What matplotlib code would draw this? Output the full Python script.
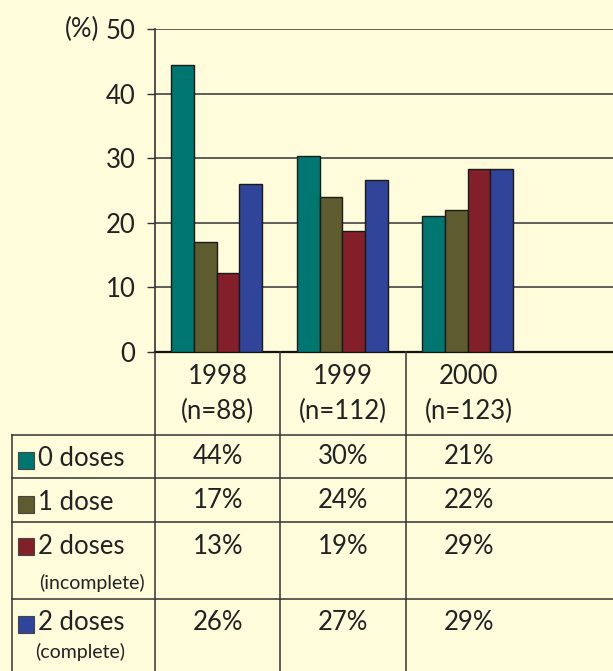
import matplotlib
matplotlib.use("Agg")
import matplotlib.pyplot as plt
from matplotlib.patches import Rectangle
from matplotlib.lines import Line2D
import matplotlib.transforms as mtransforms
import numpy as np

plt.rcParams['font.family'] = ['Lato', 'DejaVu Sans']

years = ["1998", "1999", "2000"]
sizes = ["(n=88)", "(n=112)", "(n=123)"]
series_names = ["0 doses", "1 dose", "2 doses", "2 doses"]
series_notes = ["", "", "(incomplete)", "(complete)"]
values = {
    "0 doses": [44.4, 30.4, 21.0],
    "1 dose": [17.0, 24.0, 22.0],
    "2 doses (incomplete)": [12.3, 18.7, 28.3],
    "2 doses (complete)": [26.0, 26.7, 28.3],
}
table_text = {
    "0 doses": ["44%", "30%", "21%"],
    "1 dose": ["17%", "24%", "22%"],
    "2 doses (incomplete)": ["13%", "19%", "29%"],
    "2 doses (complete)": ["26%", "27%", "29%"],
}
colors = ["#007670", "#5E5B2F", "#831F29", "#30449A"]
yticks = [0, 10, 20, 30, 40, 50]

BG = "#FFFCDC"
INK = "#222222"
LINE = "#333333"
W, H = 613, 671
FS = 18.5

fig = plt.figure(figsize=(W / 100, H / 100), dpi=100, facecolor=BG)

def fy(py):
    return 1 - py / H

def fx(px):
    return px / W

ax = fig.add_axes([fx(155), fy(352), fx(613) - fx(155), fy(29) - fy(352)])
ax.set_facecolor(BG)

x = np.arange(len(years))
bw = 0.181
keys = list(values.keys())
for i, k in enumerate(keys):
    ax.bar(x - 1.5 * bw + i * bw - 0.008, values[k], width=bw, color=colors[i],
           edgecolor="#1a1a1a", linewidth=1.0, zorder=3)

ax.set_ylim(0, 50)
ax.set_xlim(-0.5, 3.15)
ax.set_yticks(yticks)
ax.set_yticklabels([str(t) for t in yticks], fontsize=FS, color=INK)
ax.tick_params(axis='y', length=6, width=1, color=LINE, pad=8)
ax.set_xticks([])
for t in yticks[1:]:
    ax.axhline(t, color=LINE, linewidth=1.1, zorder=1)
for s in ["top", "right"]:
    ax.spines[s].set_visible(False)
ax.spines["left"].set_color(LINE)
ax.spines["left"].set_linewidth(1.2)
ax.spines["bottom"].set_color("#111111")
ax.spines["bottom"].set_linewidth(1.6)

fig.text(fx(82), fy(29), "(%)", fontsize=FS, color=INK, ha="center", va="center")

# table: x in data units, y in figure fraction
tr = mtransforms.blended_transform_factory(ax.transData, fig.transFigure)

for b in [-0.5, 0.5, 1.5]:
    fig.add_artist(Line2D([b, b], [fy(352), fy(671)], transform=tr, color=LINE, linewidth=1.1))
fig.add_artist(Line2D([fx(12), fx(12)], [fy(435), fy(671)], color=LINE, linewidth=1.1))
for py in [435, 478, 522, 599]:
    fig.add_artist(Line2D([fx(12), fx(613)], [fy(py), fy(py)], color=LINE, linewidth=1.1))

for i in range(len(years)):
    fig.text(x[i], fy(377), years[i], transform=tr, ha="center", va="center", fontsize=FS, color=INK)
    fig.text(x[i], fy(411), sizes[i], transform=tr, ha="center", va="center", fontsize=FS, color=INK)

row_y = [458, 502, 547, 623]
note_y = [None, None, 583, 652]
sq_y = [452, 496, 538, 616]
note_x = [None, None, 39, 35]
for r, k in enumerate(keys):
    fig.add_artist(Rectangle((fx(18), fy(sq_y[r] + 17)), fx(16), fy(0) - fy(17),
                             facecolor=colors[r], edgecolor="#444444", linewidth=0.8,
                             transform=fig.transFigure))
    fig.text(fx(38), fy(row_y[r]), series_names[r], ha="left", va="center", fontsize=FS, color=INK)
    if series_notes[r]:
        fig.text(fx(note_x[r]), fy(note_y[r]), series_notes[r], ha="left", va="center", fontsize=14, color=INK)
    for i in range(len(years)):
        fig.text(x[i], fy(row_y[r] - 1), table_text[k][i], transform=tr, ha="center", va="center",
                 fontsize=FS, color=INK)

fig.savefig("out.png", dpi=100, facecolor=BG)
